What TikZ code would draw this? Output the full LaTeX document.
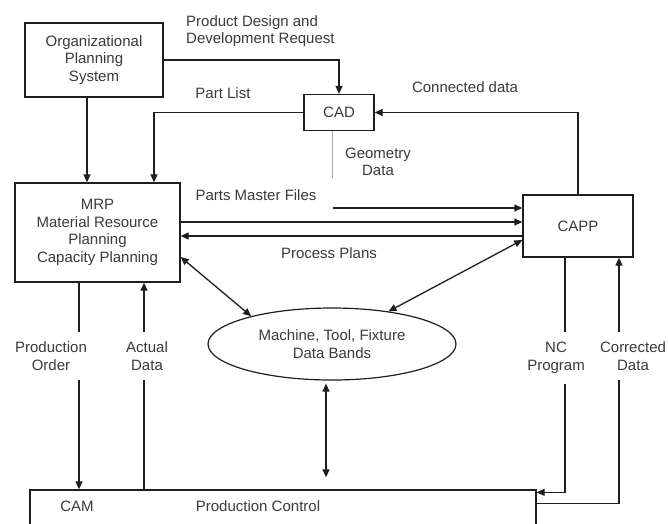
\documentclass[tikz,border=0pt]{standalone}
\usepackage{fontspec}
\setmainfont{Liberation Sans}
\usetikzlibrary{shapes.geometric,arrows.meta}
\definecolor{txt}{HTML}{3A3A3A}
\definecolor{lnB}{HTML}{1E1E1E}
\definecolor{geoB}{HTML}{A8A8A8}

\begin{document}
\begin{tikzpicture}[x=1pt,y=-1pt,font=\fontsize{15}{17.5}\selectfont,text=txt,>={Triangle[length=8pt,width=7pt]},
  box/.style={draw=lnB,line width=1.3pt,align=center,inner sep=0pt},
  fl/.style={draw=lnB,line width=1.3pt},
  geoline/.style={draw=geoB,line width=0.7pt},
  lbl/.style={align=center,inner xsep=1pt,inner ysep=0pt},
  gap/.style={lbl,fill=white,inner ysep=10pt}]
\clip (0,0) rectangle (668,523);
\fill[white] (0,0) rectangle (668,523);

\node[box,minimum width=138pt,minimum height=74pt] (org) at (94,60) {Organizational\\Planning\\System};
\node[box,minimum width=70pt,minimum height=36pt] (cad) at (339,112.5) {CAD};
\node[box,minimum width=165pt,minimum height=99pt] (mrp) at (97.5,232.5) {MRP\\Material Resource\\Planning\\Capacity Planning};
\node[box,minimum width=110pt,minimum height=62pt] (capp) at (578,226) {CAPP};
\node[ellipse,draw=lnB,line width=1.2pt,minimum width=248pt,minimum height=72pt,inner sep=0pt,align=center] (db) at (332,344) {Machine, Tool, Fixture\\Data Bands};
\node[box,minimum width=506pt,minimum height=60pt] (prod) at (283,520) {};
\node[lbl] (cam) at (77,506) {CAM};
\node[lbl] (pc) at (258,506) {Production Control};

% upper flows
\draw[fl,->] ([xshift=-7pt]org.south) -- ([xshift=-7pt]org.south |- mrp.north);
\draw[fl,->] (org.east) -| (cad.north);
\draw[fl,->] (cad.west) -| ([xshift=56.5pt]mrp.north);
\draw[fl,->] (capp.north) |- (cad.east);
\coordinate (gd) at (332,178);
\draw[geoline] (gd) -- (gd |- cad.south);
\coordinate (pm) at (333,208);
\draw[fl,->] (pm) -- (pm -| capp.west);
\draw[fl,->] ([yshift=10.5pt]mrp.east) -- ([yshift=10.5pt]mrp.east -| capp.west);
\draw[fl,->] ([yshift=-3.5pt]mrp.east -| capp.west) -- ([yshift=-3.5pt]mrp.east);
\draw[fl,<->] ([yshift=-24.5pt]mrp.east) -- (db.161);
\draw[fl,<->] ([yshift=-14pt]capp.west) -- (db.30);

% lower flows
\draw[fl,->] ([xshift=-18.5pt]mrp.south) -- ([xshift=-18.5pt]mrp.south |- prod.north);
\draw[fl,->] ([xshift=46.5pt]mrp.south |- prod.north) -- ([xshift=46.5pt]mrp.south);
\draw[fl,<->,shorten <=3pt,shorten >=12pt] ([xshift=-6pt]db.south) -- ([xshift=-6pt]db.south |- prod.north);
\draw[fl,->] ([xshift=-13pt]capp.south) |- ([yshift=-3pt]prod.north east);
\draw[fl,->] ([yshift=-14pt]prod.north east) -| ([xshift=41pt]capp.south);

\node[lbl,align=left,anchor=west] (req) at (185,31) {Product Design and\\Development Request};
\node[lbl] (plist) at (223,93) {Part List};
\node[lbl] (conn) at (465,87) {Connected data};
\node[lbl] (geom) at (378,162) {Geometry\\Data};
\node[lbl] (pmf) at (256,195) {Parts Master Files};
\node[lbl] (pplan) at (329,253) {Process Plans};
\node[gap] (porder) at (51,356) {Production\\Order};
\node[gap] (actual) at (147,356) {Actual\\Data};
\node[gap] (ncprog) at (556,358) {NC\\Program};
\node[gap] (corr) at (633,356) {Corrected\\Data};

\end{tikzpicture}
\end{document}
